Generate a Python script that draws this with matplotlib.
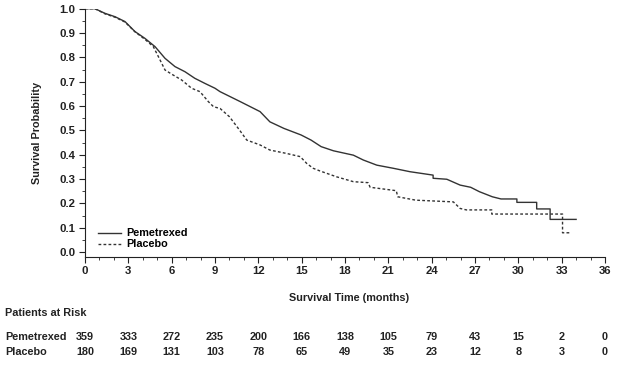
import matplotlib
matplotlib.use('Agg')
import numpy as np
import matplotlib.pyplot as plt
from matplotlib.ticker import MultipleLocator

plt.rcParams['font.family'] = ['Liberation Sans', 'DejaVu Sans']
plt.rcParams['font.weight'] = 'bold'

# Kaplan-Meier curves (months, survival probability);
# repeated times are the visible vertical drops of the tail
pem_t = [0, 0.69, 1.38, 2.08, 2.77, 3.46, 4.15, 4.85, 5.54, 6.23, 6.92, 7.6, 8.3, 9.0,
         9.35, 10.75, 12.12, 12.8, 13.77, 14.96, 15.65, 16.35, 17.2, 18.58, 19.27, 20.2,
         21.35, 22.5, 24.1, 24.1, 25.05, 25.97, 26.7, 27.3, 28.2, 28.8, 29.9, 29.9,
         31.27, 31.27, 32.2, 32.2, 34.0]
pem_s = [1.0, 1.0, 0.981, 0.967, 0.947, 0.906, 0.878, 0.844, 0.796, 0.762, 0.741, 0.714,
         0.693, 0.673, 0.659, 0.618, 0.577, 0.535, 0.508, 0.481, 0.460, 0.433, 0.416,
         0.398, 0.378, 0.357, 0.344, 0.330, 0.316, 0.303, 0.299, 0.275, 0.266, 0.248,
         0.227, 0.218, 0.218, 0.204, 0.204, 0.177, 0.177, 0.134, 0.134]

pla_t = [0, 0.69, 1.38, 2.08, 2.77, 3.46, 4.15, 4.73, 5.08, 5.54, 6.0, 6.69, 7.38, 7.96,
         8.54, 8.9, 9.35, 10.0, 10.7, 11.2, 12.12, 12.8, 13.96, 14.9, 15.35, 15.8, 16.27,
         17.42, 18.58, 19.6, 19.74, 21.55, 21.65, 22.9, 25.5, 25.97, 26.4, 28.16, 28.16,
         33.06, 33.06, 33.6]
pla_s = [1.0, 1.0, 0.979, 0.965, 0.945, 0.905, 0.874, 0.844, 0.803, 0.748, 0.731, 0.707,
         0.673, 0.659, 0.618, 0.597, 0.590, 0.556, 0.501, 0.460, 0.440, 0.419, 0.405,
         0.392, 0.364, 0.344, 0.333, 0.309, 0.289, 0.285, 0.266, 0.252, 0.227, 0.213,
         0.206, 0.179, 0.173, 0.173, 0.156, 0.156, 0.079, 0.079]

risk_times = [0, 3, 6, 9, 12, 15, 18, 21, 24, 27, 30, 33, 36]
risk_pem = [359, 333, 272, 235, 200, 166, 138, 105, 79, 43, 15, 2, 0]
risk_pla = [180, 169, 131, 103, 78, 65, 49, 35, 23, 12, 8, 3, 0]

W, H = 624, 365
fig = plt.figure(figsize=(W/100, H/100), dpi=100)
x0, x1 = 85, 605
ytop, ybot = 8.7, 256.5
ax = fig.add_axes([x0/W, 1 - ybot/H, (x1 - x0)/W, (ybot - ytop)/H])

col = '#222222'
fs = 7.8
ax.plot(pem_t, pem_s, color='#333333', lw=1.0, label='Pemetrexed')
ax.plot(pla_t, pla_s, color='#333333', lw=1.0, linestyle=(0, (2, 1.6)), label='Placebo')

ax.set_xlim(0, 36)
ax.set_ylim(-0.0185, 1.0)
ax.spines['top'].set_visible(False)
ax.spines['right'].set_visible(False)
for s in ['left', 'bottom']:
    ax.spines[s].set_linewidth(0.8)
    ax.spines[s].set_color(col)
ax.set_xticks(risk_times)
yt = np.arange(0, 1.01, 0.1)
ax.set_yticks(yt)
ax.set_yticklabels([f'{v:.1f}' for v in yt])
ax.xaxis.set_minor_locator(MultipleLocator(1))
ax.yaxis.set_minor_locator(MultipleLocator(0.05))
ax.tick_params(which='major', length=4, width=0.8, labelsize=8.2, colors=col, pad=3)
ax.tick_params(which='minor', length=2.5, width=0.6, colors=col)

ax.set_ylabel('Survival Probability', fontsize=fs, color=col, labelpad=12,
              fontweight='bold')
ax.text(18.3, -0.168, 'Survival Time (months)', transform=ax.get_xaxis_transform(),
        ha='center', va='center', fontsize=fs, color=col, fontweight='bold')

ax.legend(loc='lower left', bbox_to_anchor=(0.012, 0.0), frameon=False,
          handlelength=2.1, handletextpad=0.45, labelspacing=0.1, borderaxespad=0.25,
          prop={'weight': 'bold', 'size': fs})

# risk table
tr = ax.get_xaxis_transform()
def ay(py):
    return (ybot - py) / (ybot - ytop)

fig.text(5/W, 1 - 313/H, 'Patients at Risk', fontsize=fs, color=col, va='center')
fig.text(5/W, 1 - 337/H, 'Pemetrexed', fontsize=fs, color=col, va='center')
fig.text(5/W, 1 - 352/H, 'Placebo', fontsize=fs, color=col, va='center')
for t, a, b in zip(risk_times, risk_pem, risk_pla):
    ax.text(t, ay(337), str(a), transform=tr, ha='center', va='center',
            fontsize=fs, color=col, clip_on=False)
    ax.text(t, ay(352), str(b), transform=tr, ha='center', va='center',
            fontsize=fs, color=col, clip_on=False)

fig.savefig('out.png', dpi=100)
